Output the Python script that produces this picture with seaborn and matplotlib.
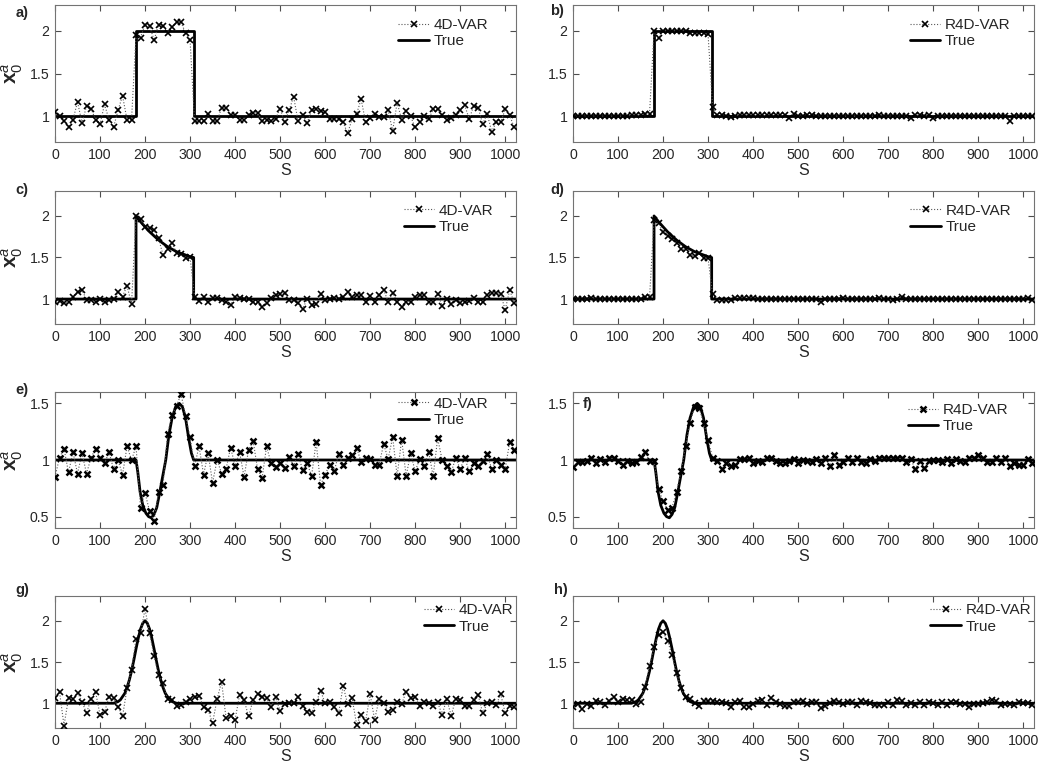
import numpy as np
import matplotlib
matplotlib.use("Agg")
import matplotlib.pyplot as plt
import seaborn as sns

sns.set_style("ticks")
plt.rcParams["font.family"] = ["Liberation Sans", "DejaVu Sans"]
plt.rcParams["mathtext.fontset"] = "custom"
plt.rcParams["mathtext.rm"] = "Liberation Sans"
plt.rcParams["mathtext.bf"] = "Liberation Sans:bold"
plt.rcParams["mathtext.it"] = "Liberation Sans:italic"

# grid points where the analyses are shown (every 10th point)
s = np.arange(0, 1021, 10)

# ---- true initial conditions
true_step_x = [0, 180, 180, 308, 308, 1024]
true_step_y = [1, 1, 2, 2, 1, 1]

true_exp_x = [0, 180, 180, 190, 200, 210, 220, 230, 240, 250, 260, 270, 280, 290, 300, 308, 308, 1024]
true_exp_y = [1, 1, 2.0, 1.93, 1.87, 1.81, 1.76, 1.71, 1.67, 1.63, 1.6, 1.57, 1.55, 1.53, 1.51, 1.5, 1, 1]

true_wave_x = [0, 180, 184, 189, 195, 202, 208, 214, 220, 226, 232, 238, 246, 253, 260,
               268, 276, 283, 290, 297, 303, 308, 1024]
true_wave_y = [1, 1, 0.89, 0.72, 0.6, 0.53, 0.5, 0.49, 0.52, 0.58, 0.7, 0.83, 1.0, 1.22, 1.37,
               1.47, 1.5, 1.47, 1.37, 1.19, 1.06, 1.0, 1.0]

true_gauss_x = [0, 130, 135, 140, 145, 150, 155, 160, 165, 170, 175, 180, 185, 190, 195, 200,
                205, 210, 215, 220, 225, 230, 235, 240, 245, 250, 255, 260, 265, 270, 1024]
true_gauss_y = [1, 1.0, 1.01, 1.02, 1.04, 1.08, 1.12, 1.19, 1.28, 1.39, 1.52, 1.66, 1.79, 1.9, 1.97, 2.0,
                1.97, 1.9, 1.79, 1.66, 1.52, 1.39, 1.28, 1.19, 1.12, 1.08, 1.04, 1.02, 1.01, 1.0, 1]

# ---- analyses
a_4dvar = [1.05, 1.0, 0.95, 0.88, 0.96, 1.17, 0.92, 1.12, 1.09, 0.96,
           0.91, 1.14, 0.96, 0.87, 1.07, 1.24, 0.96, 0.96, 1.95, 1.92,
           2.07, 2.06, 1.89, 2.07, 2.06, 1.97, 2.04, 2.1, 2.1, 1.97,
           1.89, 0.94, 0.94, 0.94, 1.03, 0.95, 0.94, 1.1, 1.1, 1.02,
           1.01, 0.96, 0.96, 1.02, 1.04, 1.04, 0.95, 0.96, 0.94, 0.97,
           1.09, 0.93, 1.07, 1.23, 0.94, 1.01, 0.92, 1.07, 1.08, 1.06,
           1.05, 0.97, 0.97, 0.97, 0.93, 0.8, 0.97, 1.03, 1.2, 0.93,
           0.98, 1.03, 0.99, 0.99, 1.07, 0.83, 1.16, 0.96, 1.06, 1.0,
           0.87, 0.93, 1.0, 0.97, 1.08, 1.08, 1.02, 0.96, 0.98, 1.02,
           1.07, 1.13, 0.97, 1.12, 1.1, 0.91, 1.03, 0.82, 0.93, 0.93,
           1.08, 1.01, 0.87]

b_r4dvar = [1.0, 1.0, 1.0, 1.0, 1.0, 1.0, 1.0, 1.0, 1.0, 1.0,
            1.0, 1.0, 1.0, 1.01, 1.01, 1.02, 1.03, 1.03, 2.0, 1.91,
            2.0, 2.0, 2.0, 2.0, 2.0, 2.0, 1.97, 1.97, 1.97, 1.97,
            1.96, 1.11, 1.01, 1.01, 1.0, 0.99, 1.0, 1.02, 1.02, 1.01,
            1.01, 1.01, 1.01, 1.01, 1.02, 1.01, 1.01, 1.01, 0.98, 1.03,
            1.0, 1.0, 1.01, 1.02, 1.0, 1.0, 1.0, 1.0, 1.0, 1.0,
            1.0, 1.0, 1.0, 1.0, 1.0, 1.0, 1.0, 1.0, 1.01, 1.0,
            1.0, 1.0, 1.0, 1.0, 1.0, 0.98, 1.02, 1.01, 1.0, 1.01,
            0.98, 1.0, 1.0, 1.0, 1.0, 1.0, 1.0, 1.0, 1.0, 1.0,
            1.0, 1.0, 1.0, 1.0, 1.0, 1.0, 1.0, 0.95, 1.0, 1.0,
            1.0, 1.0, 1.0]

c_4dvar = [0.96, 0.98, 0.95, 0.96, 1.03, 1.09, 1.11, 0.99, 0.99, 0.97,
           1.0, 0.96, 0.99, 1.0, 1.08, 1.03, 1.16, 0.94, 2.0, 1.96,
           1.87, 1.86, 1.83, 1.73, 1.53, 1.6, 1.68, 1.55, 1.54, 1.49,
           1.5, 1.03, 0.98, 1.02, 0.96, 1.01, 1.01, 0.99, 0.97, 0.93,
           1.02, 1.01, 1.0, 1.0, 0.96, 0.96, 0.91, 0.95, 1.01, 1.05,
           1.06, 1.07, 0.99, 0.99, 0.95, 0.88, 1.0, 0.93, 0.94, 1.06,
           0.99, 1.0, 1.01, 1.0, 1.03, 1.09, 1.03, 1.05, 1.05, 0.96,
           1.04, 0.96, 1.05, 1.11, 0.97, 1.07, 0.97, 0.91, 0.97, 0.97,
           1.02, 1.05, 1.05, 0.97, 0.96, 1.06, 0.92, 1.0, 0.94, 0.99,
           0.95, 0.97, 0.98, 1.01, 0.96, 0.96, 1.05, 1.07, 1.07, 1.06,
           0.87, 1.11, 0.95]

d_r4dvar = [1.0, 1.0, 1.0, 1.0, 1.01, 1.0, 1.0, 1.0, 1.0, 1.0,
            1.0, 1.0, 1.0, 1.0, 1.0, 1.0, 1.03, 1.02, 1.95, 1.92,
            1.81, 1.76, 1.72, 1.68, 1.6, 1.6, 1.53, 1.52, 1.56, 1.49,
            1.49, 1.06, 0.99, 0.99, 0.99, 0.99, 1.01, 1.01, 1.01, 1.01,
            1.01, 1.0, 1.0, 1.0, 1.0, 1.0, 1.0, 1.0, 1.0, 1.0,
            1.0, 1.0, 1.0, 1.0, 1.0, 0.97, 1.0, 1.0, 1.0, 1.0,
            1.01, 1.0, 1.0, 1.0, 1.0, 1.0, 1.0, 1.0, 1.01, 1.0,
            1.0, 0.99, 1.0, 1.03, 1.0, 1.0, 1.0, 1.0, 1.0, 1.0,
            1.0, 1.0, 1.0, 1.0, 1.0, 1.0, 1.0, 1.0, 1.0, 1.0,
            1.0, 1.0, 1.0, 1.0, 1.0, 1.0, 1.0, 1.0, 1.0, 1.0,
            1.0, 1.01, 0.99]

e_4dvar = [0.85, 1.02, 1.1, 0.89, 1.07, 0.88, 1.06, 0.88, 1.02, 1.1,
           1.02, 0.97, 1.07, 0.92, 1.0, 0.87, 1.12, 1.0, 1.12, 0.58,
           0.71, 0.55, 0.46, 0.72, 0.78, 1.23, 1.4, 1.48, 1.58, 1.39,
           1.2, 0.95, 1.12, 0.87, 1.06, 0.8, 1.0, 0.88, 0.92, 1.11,
           0.95, 1.07, 0.85, 1.09, 1.17, 0.92, 0.84, 1.12, 0.97, 0.94,
           0.97, 0.93, 1.03, 0.95, 1.05, 0.91, 0.97, 0.86, 1.16, 0.78,
           0.87, 0.96, 0.9, 1.05, 0.96, 1.02, 1.04, 1.11, 0.98, 1.02,
           1.01, 0.96, 0.96, 1.14, 1.01, 1.2, 0.86, 1.18, 0.86, 1.06,
           0.9, 1.01, 0.95, 1.07, 0.86, 1.19, 1.0, 0.95, 0.89, 1.02,
           0.92, 1.02, 0.9, 0.97, 0.95, 0.99, 1.05, 0.92, 1.0, 0.96,
           0.92, 1.16, 1.09]

f_r4dvar = [0.94, 0.98, 0.98, 0.99, 1.02, 0.97, 1.01, 0.98, 1.02, 1.02,
            0.99, 0.96, 0.99, 0.97, 0.98, 1.03, 1.07, 0.99, 0.99, 0.74,
            0.64, 0.56, 0.58, 0.72, 0.9, 1.12, 1.33, 1.47, 1.46, 1.33,
            1.18, 1.02, 0.99, 0.92, 0.97, 0.95, 0.96, 1.01, 1.01, 1.02,
            0.97, 0.99, 0.98, 1.02, 1.02, 0.99, 0.97, 0.97, 0.99, 1.01,
            0.97, 1.0, 0.99, 0.98, 1.01, 0.97, 1.02, 0.95, 1.04, 0.96,
            0.98, 1.02, 0.98, 1.02, 0.98, 0.97, 1.01, 0.99, 1.02, 1.02,
            1.02, 1.02, 1.02, 1.02, 0.98, 1.01, 0.92, 0.99, 0.93, 0.99,
            1.0, 1.0, 0.98, 1.01, 0.97, 1.01, 0.99, 0.98, 1.02, 1.02,
            1.04, 1.02, 0.98, 0.98, 1.02, 0.98, 1.02, 0.95, 0.97, 0.96,
            0.96, 1.01, 0.97]

g_4dvar = [1.06, 1.14, 0.73, 1.06, 1.05, 1.13, 1.02, 0.88, 1.05, 1.14,
           0.86, 0.89, 1.08, 1.06, 0.96, 0.84, 1.18, 1.4, 1.78, 1.85,
           2.14, 1.85, 1.57, 1.34, 1.24, 1.05, 1.04, 0.97, 0.98, 1.01,
           1.05, 1.08, 1.09, 0.95, 0.92, 0.76, 1.05, 1.26, 0.82, 0.84,
           0.8, 1.1, 1.04, 0.84, 1.04, 1.11, 1.08, 1.06, 0.95, 1.07,
           0.91, 0.99, 1.0, 1.0, 1.08, 0.97, 0.9, 0.88, 1.01, 1.15,
           1.0, 1.01, 0.96, 0.88, 1.21, 0.99, 1.06, 0.74, 0.86, 0.78,
           1.11, 0.8, 1.05, 1.0, 0.9, 0.92, 1.01, 0.99, 1.14, 1.06,
           1.07, 0.97, 1.01, 1.0, 0.97, 1.01, 0.86, 1.05, 0.85, 1.05,
           1.04, 0.97, 0.97, 1.04, 1.1, 0.88, 1.0, 1.02, 0.98, 1.11,
           0.88, 0.97, 0.95]

h_r4dvar = [0.95, 0.99, 0.93, 0.99, 0.97, 1.03, 1.01, 0.98, 1.03, 1.07,
            1.02, 1.05, 1.04, 1.04, 0.99, 1.01, 1.2, 1.45, 1.68, 1.83,
            1.86, 1.76, 1.58, 1.37, 1.18, 1.07, 1.05, 1.0, 0.97, 1.03,
            1.03, 1.03, 1.01, 1.01, 1.0, 0.96, 1.02, 1.03, 0.96, 0.96,
            0.99, 1.03, 1.04, 0.98, 1.06, 1.02, 0.99, 0.97, 0.97, 1.02,
            1.02, 1.03, 0.99, 1.01, 1.01, 0.94, 0.97, 1.0, 1.03, 1.02,
            0.99, 1.01, 1.01, 0.98, 1.03, 1.01, 1.0, 0.98, 0.98, 0.98,
            1.02, 0.98, 1.04, 1.03, 0.98, 1.0, 0.98, 1.02, 0.98, 1.01,
            1.0, 0.98, 1.02, 0.98, 1.01, 1.02, 0.99, 0.99, 0.96, 0.99,
            0.99, 1.0, 1.01, 1.04, 1.03, 0.98, 0.99, 0.99, 0.98, 1.01,
            1.0, 1.0, 0.98]

panels = [
    # label, analysis, legend name, true x, true y, ylim kind, legend anchor, label pos(px)
    ("a)", a_4dvar, "4D-VAR", true_step_x, true_step_y, "hi", (0.745, 0.905), (22, 13)),
    ("b)", b_r4dvar, "R4D-VAR", true_step_x, true_step_y, "hi", (0.73, 0.905), (557, 11)),
    ("c)", c_4dvar, "4D-VAR", true_exp_x, true_exp_y, "hi", (0.756, 0.905), (22, 190)),
    ("d)", d_r4dvar, "R4D-VAR", true_exp_x, true_exp_y, "hi", (0.732, 0.905), (557, 190)),
    ("e)", e_4dvar, "4D-VAR", true_wave_x, true_wave_y, "lo", (0.745, 0.965), (22, 390)),
    ("f)", f_r4dvar, "R4D-VAR", true_wave_x, true_wave_y, "lo", (0.726, 0.92), (588, 404)),
    ("g)", g_4dvar, "4D-VAR", true_gauss_x, true_gauss_y, "hi", (0.80, 0.945), (22, 590)),
    ("h)", h_r4dvar, "R4D-VAR", true_gauss_x, true_gauss_y, "hi", (0.775, 0.945), (561, 590)),
]

W, H = 1041, 763
fig = plt.figure(figsize=(W / 100, H / 100), dpi=100)

col_left = [55, 573]
ax_w = 461
rows = [(5, 142), (191, 324), (392, 528), (596, 728)]

for i, (lab, ana, name, tx, ty, kind, leg_xy, lab_xy) in enumerate(panels):
    r, c = divmod(i, 2)
    top, bot = rows[r]
    ax = fig.add_axes([col_left[c] / W, 1 - bot / H, ax_w / W, (bot - top) / H])

    bold = kind == "lo"
    sns.lineplot(x=s, y=ana, ax=ax, estimator=None, sort=False, color="0.35",
                 linestyle=":", linewidth=0.8, marker="x", markersize=4.8,
                 markeredgecolor="k", markeredgewidth=1.8 if bold else 1.2,
                 label=name, zorder=3)
    sns.lineplot(x=tx, y=ty, ax=ax, estimator=None, sort=False, color="k",
                 linewidth=2.0, label="True", zorder=2)

    ax.set_xlim(0, 1024)
    ax.set_xticks(range(0, 1001, 100))
    if kind == "hi":
        ax.set_ylim(0.7, 2.3)
        ax.set_yticks([1, 1.5, 2])
        ax.set_yticklabels(["1", "1.5", "2"])
    else:
        ax.set_ylim(0.4, 1.6)
        ax.set_yticks([0.5, 1, 1.5])
        ax.set_yticklabels(["0.5", "1", "1.5"])

    ax.tick_params(direction="in", length=4, width=0.8, top=True, right=True,
                   labelsize=10.2, color="0.3", pad=4)
    for sp in ax.spines.values():
        sp.set_color("0.45")
        sp.set_linewidth(0.8)
    ax.set_xlabel("S", fontsize=11.5, labelpad=1)
    ax.set_ylabel("")
    if c == 0:
        ax.set_ylabel(r"$\mathbf{x}_0^a$", fontsize=15)
        ax.yaxis.set_label_coords(-0.064, 0.5)

    ax.legend(loc="upper left", bbox_to_anchor=leg_xy, frameon=False, fontsize=11,
              handlelength=2.0, handletextpad=0.3, labelspacing=0.15,
              borderpad=0, borderaxespad=0)

    fig.text(lab_xy[0] / W, 1 - lab_xy[1] / H, lab, fontsize=10.5, fontweight="bold",
             ha="center", va="center")

fig.savefig("out.png", dpi=100, facecolor="white")
